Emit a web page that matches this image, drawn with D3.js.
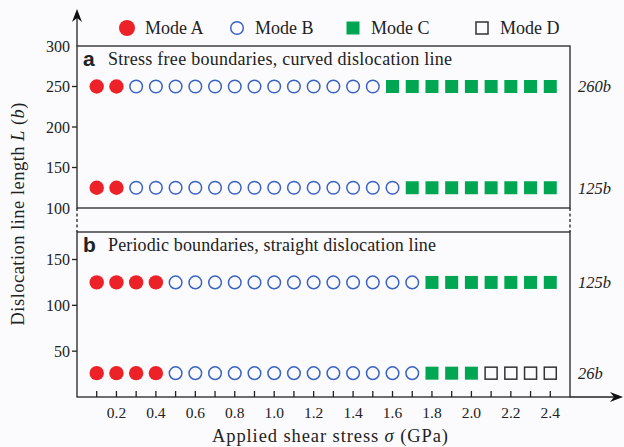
<!DOCTYPE html>
<html>
<head>
<meta charset="utf-8">
<script src="https://cdn.jsdelivr.net/npm/d3@7"></script>
<style>
  body { margin: 0; background: #fbfbfd; }
  svg { display: block; font-family: "Liberation Serif", serif; }
</style>
</head>
<body>
<div id="chart"></div>
<script>
var width = 624,
  height = 447;

// applied shear stress levels (GPa)
var stressLevels = [0.1, 0.2, 0.3, 0.4, 0.5, 0.6, 0.7, 0.8, 0.9, 1.0, 1.1, 1.2,
  1.3, 1.4, 1.5, 1.6, 1.7, 1.8, 1.9, 2.0, 2.1, 2.2, 2.3, 2.4];
var xTickLabels = [0.2, 0.4, 0.6, 0.8, 1.0, 1.2, 1.4, 1.6, 1.8, 2.0, 2.2, 2.4];

// rows: panel, plotted length, right label, mode at each stress level
var rowPanel = ["a", "a", "b", "b"];
var rowLength = [250, 125, 125, 26];
var rowLabel = ["260", "125", "125", "26"];
var rowModes = [
  "AABBBBBBBBBBBBBCCCCCCCCC",
  "AABBBBBBBBBBBBBBCCCCCCCC",
  "AAAABBBBBBBBBBBBBCCCCCCC",
  "AAAABBBBBBBBBBBBBCCCDDDD"
];

var panelTitles = ["Stress free boundaries, curved dislocation line",
  "Periodic boundaries, straight dislocation line"];
var topTicks = [150, 200, 250];
var topTickLabels = [100, 150, 200, 250, 300];
var bottomTicks = [50, 100, 150];

var legendModes = ["A", "B", "C", "D"];
var legendX = [127, 237, 353, 482];

var red = "#ed2228", blue = "#3a63c2", green = "#00a651", dark = "#333";

var svg = d3.select("#chart").append("svg")
  .attr("width", width)
  .attr("height", height);

var x = d3.scaleLinear().domain([0, 2.5]).range([77, 570]);
var yTop = d3.scaleLinear().domain([100, 300]).range([208, 46]);
var yBot = d3.scaleLinear().domain([0, 180]).range([397, 232]);
var yFor = { a: yTop, b: yBot };

function drawMarker(g, mode, cx, cy) {
  if (mode === "A") {
    g.append("circle").attr("cx", cx).attr("cy", cy).attr("r", 7.2)
      .attr("fill", red);
  } else if (mode === "B") {
    g.append("circle").attr("cx", cx).attr("cy", cy).attr("r", 6.3)
      .attr("fill", "none").attr("stroke", blue).attr("stroke-width", 1.5);
  } else if (mode === "C") {
    g.append("rect").attr("x", cx - 6.5).attr("y", cy - 6.5)
      .attr("width", 13).attr("height", 13).attr("fill", green);
  } else {
    g.append("rect").attr("x", cx - 6).attr("y", cy - 6)
      .attr("width", 12).attr("height", 12)
      .attr("fill", "none").attr("stroke", dark).attr("stroke-width", 1.5);
  }
}

// panel frames
var lw = 1.3;
svg.append("rect").attr("x", x(0)).attr("y", yTop(300))
  .attr("width", x(2.5) - x(0)).attr("height", yTop(100) - yTop(300))
  .attr("fill", "none").attr("stroke", "#222").attr("stroke-width", lw);
svg.append("rect").attr("x", x(0)).attr("y", yBot(180))
  .attr("width", x(2.5) - x(0)).attr("height", yBot(0) - yBot(180))
  .attr("fill", "none").attr("stroke", "#222").attr("stroke-width", lw);

// dashed breaks between the panels
[x(0), x(2.5)].forEach(function(px) {
  svg.append("line").attr("x1", px).attr("x2", px)
    .attr("y1", yTop(100)).attr("y2", yBot(180))
    .attr("stroke", "#222").attr("stroke-width", lw)
    .attr("stroke-dasharray", "3,2.5");
});

// axes with arrows
svg.append("line").attr("x1", x(0)).attr("x2", x(0))
  .attr("y1", yTop(300)).attr("y2", 16)
  .attr("stroke", "#222").attr("stroke-width", lw);
svg.append("path").attr("d", "M77,9 L82,22 L77,18 L72,22 Z").attr("fill", "#111");
svg.append("line").attr("x1", x(2.5)).attr("x2", 615)
  .attr("y1", yBot(0)).attr("y2", yBot(0))
  .attr("stroke", "#222").attr("stroke-width", lw);
svg.append("path").attr("d", "M623,397 L610,402 L614,397 L610,392 Z").attr("fill", "#111");

// y ticks
function yTickMarks(scale, ticks) {
  svg.append("g").selectAll("line").data(ticks).join("line")
    .attr("x1", x(0) - 5).attr("x2", x(0))
    .attr("y1", function(d) { return scale(d); })
    .attr("y2", function(d) { return scale(d); })
    .attr("stroke", "#222").attr("stroke-width", lw);
}
yTickMarks(yTop, topTicks);
yTickMarks(yBot, bottomTicks);

svg.append("g").selectAll("text").data(topTickLabels).join("text")
  .attr("x", 70).attr("y", function(d) { return yTop(d); })
  .attr("dy", "0.35em").attr("text-anchor", "end")
  .attr("font-size", 16).attr("fill", "#222")
  .text(function(d) { return d; });
svg.append("g").selectAll("text").data(bottomTicks).join("text")
  .attr("x", 70).attr("y", function(d) { return yBot(d); })
  .attr("dy", "0.35em").attr("text-anchor", "end")
  .attr("font-size", 16).attr("fill", "#222")
  .text(function(d) { return d; });

// x ticks (inward)
svg.append("g").selectAll("line").data(stressLevels).join("line")
  .attr("x1", function(d) { return x(d); })
  .attr("x2", function(d) { return x(d); })
  .attr("y1", yBot(0)).attr("y2", yBot(0) - 6)
  .attr("stroke", "#222").attr("stroke-width", lw);
svg.append("g").selectAll("text").data(xTickLabels).join("text")
  .attr("x", function(d) { return x(d); }).attr("y", 418)
  .attr("text-anchor", "middle").attr("font-size", 15.5).attr("fill", "#222")
  .text(function(d) { return d3.format(".1f")(d); });

// axis titles
var xt = svg.append("text").attr("x", 330).attr("y", 442)
  .attr("text-anchor", "middle").attr("font-size", 18.5).attr("fill", "#222")
  .attr("textLength", 236).attr("lengthAdjust", "spacing");
xt.append("tspan").text("Applied shear stress ");
xt.append("tspan").attr("font-style", "italic").text("σ");
xt.append("tspan").text(" (GPa)");

var yt = svg.append("text").attr("transform", "translate(24,214) rotate(-90)")
  .attr("text-anchor", "middle").attr("font-size", 18.5).attr("fill", "#222")
  .attr("textLength", 223).attr("lengthAdjust", "spacing");
yt.append("tspan").text("Dislocation line length ");
yt.append("tspan").attr("font-style", "italic").text("L");
yt.append("tspan").text(" (");
yt.append("tspan").attr("font-style", "italic").text("b");
yt.append("tspan").text(")");

// panel titles
["a", "b"].forEach(function(p, i) {
  var top = yFor[p].range()[1];
  svg.append("text").attr("x", 83).attr("y", top + 20)
    .attr("font-family", "Liberation Sans, Arial, sans-serif")
    .attr("font-weight", "bold").attr("font-size", 21).attr("fill", "#222")
    .text(p);
  svg.append("text").attr("x", 108).attr("y", top + 19)
    .attr("font-size", 18).attr("fill", "#222")
    .attr("textLength", i === 0 ? 344 : 328).attr("lengthAdjust", "spacing")
    .text(panelTitles[i]);
});

// markers
rowModes.forEach(function(modes, r) {
  var scale = yFor[rowPanel[r]];
  var g = svg.append("g");
  stressLevels.forEach(function(s, i) {
    drawMarker(g, modes[i], x(s), scale(rowLength[r]));
  });
  var lab = svg.append("text").attr("x", 578).attr("y", scale(rowLength[r]))
    .attr("dy", "0.35em").attr("font-size", 16.5).attr("fill", "#222")
    .attr("font-style", "italic");
  lab.text(rowLabel[r] + "b");
});

// legend
legendModes.forEach(function(m, i) {
  var g = svg.append("g");
  drawMarker(g, m, legendX[i], 28);
  if (m === "A") g.select("circle").attr("r", 8);
  g.append("text").attr("x", legendX[i] + 18).attr("y", 28)
    .attr("dy", "0.35em").attr("font-size", 18).attr("fill", "#222")
    .text("Mode " + m);
});
</script>
</body>
</html>
